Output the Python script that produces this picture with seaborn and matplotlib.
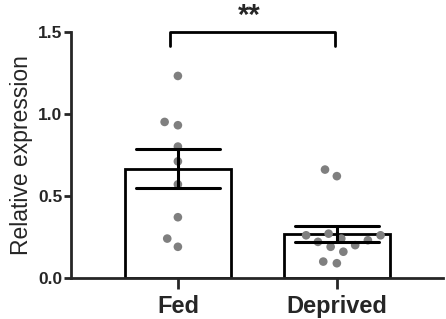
import numpy as np
import pandas as pd
import matplotlib
matplotlib.use("Agg")
import matplotlib.pyplot as plt
import seaborn as sns

# values
groups = ["Fed", "Deprived"]
fed_vals = [1.23, 0.93, 0.95, 0.80, 0.71, 0.57, 0.37, 0.24, 0.19]
deprived_vals = [0.66, 0.62, 0.27, 0.26, 0.26, 0.24, 0.23, 0.22, 0.20, 0.19,
                 0.16, 0.10, 0.09]
sig_label = "**"

df = pd.DataFrame({
    "group": ["Fed"] * len(fed_vals) + ["Deprived"] * len(deprived_vals),
    "value": fed_vals + deprived_vals,
})

sns.set_style("ticks")
plt.rcParams["font.family"] = ["Liberation Sans", "DejaVu Sans"]

fig = plt.figure(figsize=(4.46, 3.19), dpi=100)
ax = fig.add_axes([0.159, 0.1285, 0.834, 0.7725])

# bars with SEM error bars
sns.barplot(data=df, x="group", y="value", order=groups, errorbar="se",
            width=0.667, color="white", edgecolor="black", linewidth=2,
            capsize=0.53, err_kws={"color": "black", "linewidth": 2.2},
            ax=ax)
err_lines = list(ax.lines)
for p in ax.patches:
    p.set_facecolor("white")
    p.set_zorder(1)

# individual points; invisible edge widens the swarm spacing like the original
sns.swarmplot(data=df, x="group", y="value", order=groups, color="#7f7f7f",
              size=6.2, linewidth=3.2, edgecolor="none", ax=ax)
for c in ax.collections:
    c.set_zorder(3)
for ln in err_lines:
    ln.set_zorder(4)

ax.set_xlim(-0.673, 1.667)
ax.set_ylim(0, 1.5)
ax.set_yticks([0, 0.5, 1.0, 1.5])
ax.set_yticklabels(["0.0", "0.5", "1.0", "1.5"])
ax.set_xlabel("")
ax.set_ylabel("Relative expression", fontsize=16.5, labelpad=4)

sns.despine(ax=ax)
for s in ["left", "bottom"]:
    ax.spines[s].set_linewidth(2)
ax.tick_params(axis="y", length=5, width=2, pad=1, labelsize=12.5)
ax.tick_params(axis="x", length=8, width=2, pad=4, labelsize=17)
for t in ax.get_yticklabels() + ax.get_xticklabels():
    t.set_fontweight("bold")

# significance bracket
ax.plot([-0.05, -0.05, 0.99, 0.99], [1.41, 1.5, 1.5, 1.41], color="black",
        lw=2, clip_on=False, zorder=5)
ax.text(0.45, 1.545, sig_label, ha="center", va="baseline", fontsize=21,
        fontweight="bold")

fig.savefig("out.png", dpi=100)
